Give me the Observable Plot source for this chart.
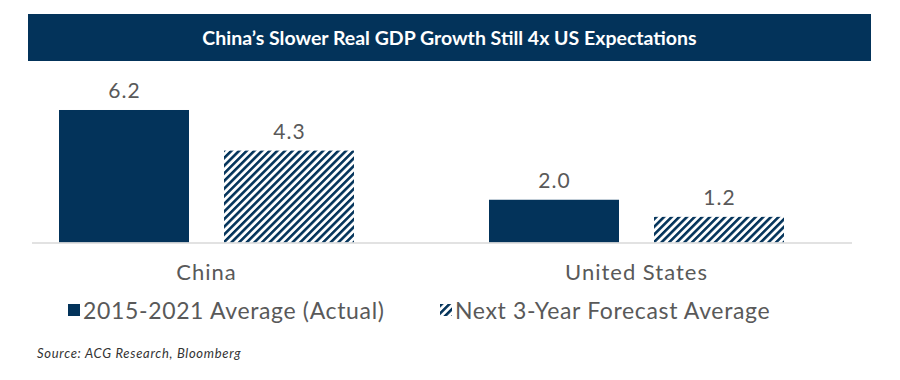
<!DOCTYPE html>
<html><head><meta charset="utf-8">
<script src="https://cdn.jsdelivr.net/npm/d3@7"></script>
<script src="https://cdn.jsdelivr.net/npm/@observablehq/plot@0.6"></script>
<style>
body{margin:0;background:#fff;font-family:Lato,"Open Sans",sans-serif;width:900px;height:380px;overflow:hidden;position:relative}
#title{position:absolute;left:28px;top:14px;width:843px;height:47px;background:#03335a;color:#fff;font-weight:bold;font-size:19.5px;display:flex;align-items:center;justify-content:center}
#chart{position:absolute;left:0;top:61px}
#legend{position:absolute;top:295px;left:0;width:900px;height:30px}
.item{position:absolute;top:0;display:flex;align-items:center;font-size:23px;letter-spacing:0.65px;color:#595959;height:30px;white-space:nowrap}
.sw{width:12px;height:12px;margin-right:3px;display:block}
#source{position:absolute;left:37px;top:345px;font-size:13px;letter-spacing:0.7px;font-style:italic;color:#333}
</style></head><body>
<div id="title"></div><div id="chart"></div><div id="legend"></div><div id="source"></div>
<script>
const titleText = "China’s Slower Real GDP Growth Still 4x US Expectations";
const sourceText = "Source: ACG Research, Bloomberg";
const countries = ["China", "United States"];
const series = ["2015-2021 Average (Actual)", "Next 3-Year Forecast Average"];
const actual = [6.2, 2.0];
const forecast = [4.3, 1.2];

const navy = "#03335a";
const grey = "#595959";
const fmt = d3.format(".1f");

const rows = countries.flatMap((c, i) => [
  {country: c, series: series[0], value: actual[i]},
  {country: c, series: series[1], value: forecast[i]}
]);

document.getElementById("title").textContent = titleText;
document.getElementById("source").textContent = sourceText;

const chart = Plot.plot({
  width: 900, height: 229,
  marginTop: 31.9, marginBottom: 47.5, marginLeft: 0, marginRight: 0,
  style: {fontFamily: "Lato, 'Open Sans', sans-serif", background: "transparent"},
  fx: {domain: countries, range: [-9.3, 850.7], padding: 0, axis: null},
  x: {domain: series, paddingInner: 35 / 165, paddingOuter: 67.5 / 165, axis: null},
  y: {domain: [0, 7], axis: null},
  color: {domain: series, range: [navy, "url(#hatch)"]},
  marks: [
    Plot.barY(rows, {fx: "country", x: "series", y: "value", fill: "series"}),
    Plot.ruleY([{c: countries[0], v: 0}], {fx: "c", y: "v", insetLeft: 41, stroke: "#d9d9d9", strokeWidth: 1.5}),
    Plot.ruleY([{c: countries[1], v: 0}], {fx: "c", y: "v", insetRight: -1, stroke: "#d9d9d9", strokeWidth: 1.5}),
    Plot.text(rows, {fx: "country", x: "series", y: "value", text: d => fmt(d.value), dy: -19, fill: grey, fontSize: 21, letterSpacing: "1px"}),
    Plot.text(countries, {fx: d => d, text: d => d, frameAnchor: "bottom", lineAnchor: "middle", dy: 29.5, fill: grey, fontSize: 22, letterSpacing: "1px"})
  ]
});

const svg = d3.select(chart);
const defs = svg.insert("defs", ":first-child");
const pat = defs.append("pattern").attr("id", "hatch").attr("patternUnits", "userSpaceOnUse")
  .attr("width", 5.4).attr("height", 5.4).attr("patternTransform", "rotate(45)");
pat.append("rect").attr("width", 5.4).attr("height", 5.4).attr("fill", "#fff");
pat.append("rect").attr("width", 2.6).attr("height", 5.4).attr("fill", navy);
svg.selectAll("text").style("letter-spacing", "1px");
document.getElementById("chart").appendChild(chart);

// legend
const legend = document.getElementById("legend");
const lefts = [68, 440];
series.forEach((s, i) => {
  const item = document.createElement("div");
  item.className = "item";
  item.style.left = lefts[i] + "px";
  const sw = document.createElementNS("http://www.w3.org/2000/svg", "svg");
  sw.setAttribute("class", "sw");
  sw.setAttribute("width", 12); sw.setAttribute("height", 12);
  if (i === 0) {
    sw.innerHTML = `<rect width="12" height="12" fill="${navy}"/>`;
  } else {
    sw.innerHTML = `<defs><pattern id="hatch2" patternUnits="userSpaceOnUse" width="5.4" height="5.4" patternTransform="rotate(45)"><rect width="5.4" height="5.4" fill="#fff"/><rect width="2.6" height="5.4" fill="${navy}"/></pattern></defs><rect width="12" height="12" fill="url(#hatch2)"/>`;
  }
  item.appendChild(sw);
  const t = document.createElement("span");
  t.textContent = s;
  item.appendChild(t);
  legend.appendChild(item);
});
</script>
</body></html>
